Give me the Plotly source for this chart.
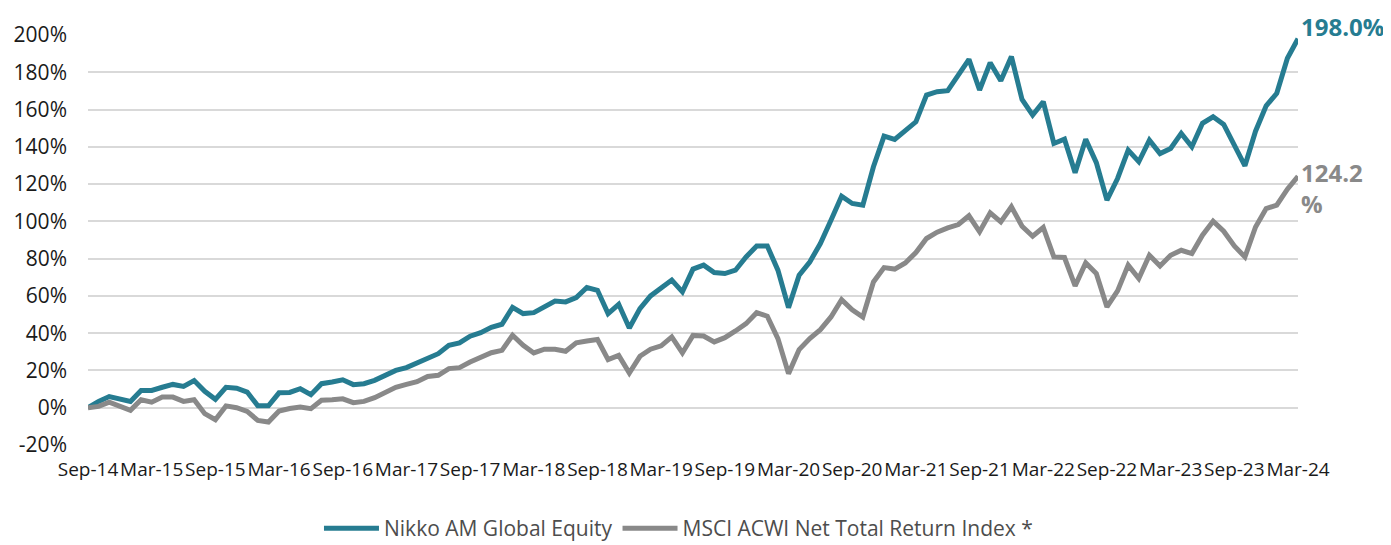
import pandas as pd
import plotly.graph_objects as go

# Month-end categories Sep-14 .. Mar-24
months = [d.strftime("%b-%y") for d in pd.date_range("2014-09-30", "2024-03-31", freq="ME")]

nikko = [
    0.0, 3.4, 6.0, 4.6, 3.4, 9.3, 9.3, 11.0, 12.5, 11.4,
    14.6, 8.8, 4.5, 11.0, 10.5, 8.4, 1.0, 1.0, 8.0, 8.2,
    10.2, 7.0, 12.9, 13.8, 15.0, 12.4, 12.9, 14.7, 17.4, 20.0,
    21.5, 24.0, 26.9, 29.0, 33.5, 34.8, 38.4, 40.3, 43.2, 44.8,
    53.8, 50.5, 51.0, 54.5, 57.3, 56.8, 59.1, 64.5, 63.0, 50.5,
    55.5, 42.8, 53.2, 60.0, 64.0, 68.5, 62.2, 74.4, 76.5, 72.5,
    72.0, 73.8, 80.9, 86.8, 86.8, 73.8, 53.7, 71.1, 78.2, 88.1,
    100.6, 113.5, 109.6, 108.7, 129.3, 145.7, 144.0, 148.6, 153.4, 167.8,
    169.6, 170.1, 179.1, 186.9, 170.5, 185.1, 175.5, 188.4, 165.4, 157.0,
    164.2, 141.8, 144.1, 126.1, 144.0, 131.5, 111.4, 123.0, 138.2, 132.0,
    143.6, 136.4, 139.1, 147.2, 140.0, 152.6, 156.1, 152.0, 140.9, 129.8,
    148.4, 162.0, 168.7, 187.5, 198.0,
]

msci = [
    0.0, 0.7, 3.0, 0.7, -1.4, 4.3, 3.0, 5.7, 5.7, 3.4,
    4.3, -3.2, -6.4, 1.0, 0.0, -2.0, -6.8, -7.7, -1.8, -0.4,
    0.4, -0.5, 4.0, 4.3, 4.8, 2.7, 3.4, 5.4, 7.9, 11.0,
    12.5, 14.0, 16.8, 17.4, 21.0, 21.5, 24.5, 27.2, 29.5, 30.8,
    38.9, 33.5, 29.4, 31.4, 31.4, 30.3, 34.8, 35.8, 36.6, 25.8,
    28.1, 18.6, 27.6, 31.4, 33.2, 38.0, 29.4, 38.8, 38.5, 35.3,
    37.6, 41.2, 45.1, 51.0, 49.1, 37.1, 18.3, 31.2, 37.1, 41.9,
    48.7, 58.0, 52.6, 48.7, 67.5, 75.2, 74.4, 77.7, 83.3, 90.8,
    94.2, 96.5, 98.3, 103.0, 94.4, 104.6, 99.7, 107.8, 97.4, 92.0,
    96.7, 80.9, 80.6, 65.4, 77.7, 72.0, 54.1, 62.7, 76.5, 69.3,
    81.8, 76.1, 81.8, 84.5, 82.7, 92.6, 100.1, 94.7, 86.8, 80.9,
    97.0, 106.9, 108.7, 117.3, 124.2,
]

series_names = ["Nikko AM Global Equity", "MSCI ACWI Net Total Return Index *"]
end_labels = ["198.0%", "124.2<br>%"]
x_ticks = months[::6]
y_ticks = list(range(-20, 201, 20))
y_ticktext = [f"{v}%" for v in y_ticks]

TEAL = "#267C91"
GREY = "#898989"
FONT = "Open Sans"

fig = go.Figure()
fig.add_trace(go.Scatter(x=months, y=nikko, mode="lines", name=series_names[0],
                         line=dict(color=TEAL, width=5)))
fig.add_trace(go.Scatter(x=months, y=msci, mode="lines", name=series_names[1],
                         line=dict(color=GREY, width=5)))

fig.add_annotation(x=months[-1], yref="paper", y=1.02, text=f"<b>{end_labels[0]}</b>",
                   showarrow=False, xanchor="left", yanchor="middle", xshift=1,
                   font=dict(family=FONT, size=24, color=TEAL))
fig.add_annotation(x=months[-1], y=118, text=f"<b>{end_labels[1]}</b>", showarrow=False,
                   xanchor="left", yanchor="middle", xshift=1, align="left",
                   font=dict(family=FONT, size=24, color=GREY))

fig.update_layout(
    width=1383, height=537,
    margin=dict(l=80, r=93, t=27, b=100, autoexpand=False),
    paper_bgcolor="white", plot_bgcolor="white",
    font=dict(family=FONT, color="#1a1a1a"),
    showlegend=True,
    legend=dict(orientation="h", x=0.488, xanchor="center", y=-0.204, yanchor="middle",
                font=dict(family=FONT, size=21, color="#4d4d4d"),
                itemwidth=55, traceorder="normal", bgcolor="rgba(0,0,0,0)"),
    xaxis=dict(type="category", range=[0, len(months) - 1], tickmode="array",
               tickvals=x_ticks, ticktext=x_ticks, showgrid=False, zeroline=False,
               showline=False, ticks="", tickangle=0, ticklabelstandoff=11,
               tickfont=dict(family=FONT, size=19, color="#1a1a1a")),
    yaxis=dict(range=[-20, 200], tickmode="array", tickvals=y_ticks, ticktext=y_ticktext,
               showgrid=True, gridcolor="#d9d9d9", gridwidth=2, zeroline=False,
               showline=False, ticks="", ticklabelstandoff=20,
               tickfont=dict(family=FONT, size=21, color="#1a1a1a")),
)

fig.write_html("out.html")
